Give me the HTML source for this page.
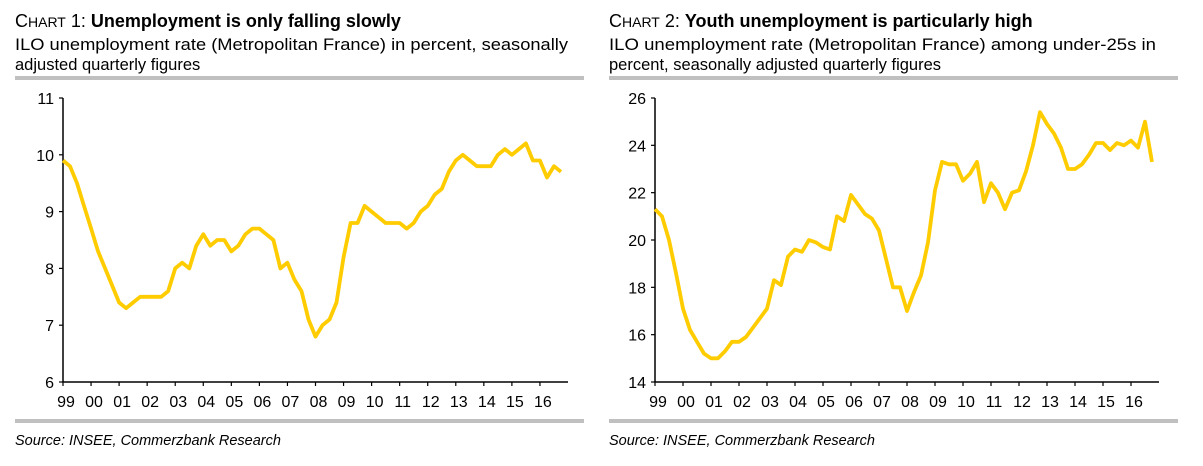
<!DOCTYPE html>
<html><head><meta charset="utf-8">
<style>
html,body{margin:0;padding:0;background:#fff;}
svg{display:block;font-family:"Liberation Sans",Arial,sans-serif;}
</style></head>
<body>
<svg id="s" width="1203" height="466" viewBox="0 0 1203 466">
  <g>
    <text x="15" y="27" font-size="18" fill="#000"><tspan>C</tspan><tspan font-size="14">HART</tspan><tspan> 1: </tspan><tspan font-weight="bold">Unemployment is only falling slowly</tspan></text>
    <text x="15" y="50" font-size="16.5" textLength="553" lengthAdjust="spacingAndGlyphs">ILO unemployment rate (Metropolitan France) in percent, seasonally</text>
    <text x="15" y="70" font-size="16.5">adjusted quarterly figures</text>
    <rect x="15" y="76" width="569" height="4" fill="#c0c0c0"/>
    <rect x="15" y="419" width="569" height="4" fill="#c0c0c0"/>
    <text x="15" y="445" font-size="14.5" font-style="italic">Source: INSEE, Commerzbank Research</text>
  </g>
  <g>
    <text x="609" y="27" font-size="18" fill="#000"><tspan>C</tspan><tspan font-size="14">HART</tspan><tspan> 2: </tspan><tspan font-weight="bold">Youth unemployment is particularly high</tspan></text>
    <text x="609" y="50" font-size="16.5" textLength="547" lengthAdjust="spacingAndGlyphs">ILO unemployment rate (Metropolitan France) among under-25s in</text>
    <text x="609" y="70" font-size="16.5">percent, seasonally adjusted quarterly figures</text>
    <rect x="609" y="76" width="569" height="4" fill="#c0c0c0"/>
    <rect x="609" y="419" width="569" height="4" fill="#c0c0c0"/>
    <text x="609" y="445" font-size="14.5" font-style="italic">Source: INSEE, Commerzbank Research</text>
  </g>
  <g id="c1"></g>
  <g id="c2"></g>
</svg>
<script>
const yearLabels = ["99","00","01","02","03","04","05","06","07","08","09","10","11","12","13","14","15","16"];
const yTicks1 = [6,7,8,9,10,11];
const yTicks2 = [14,16,18,20,22,24,26];
const series1 = [9.9,9.8,9.5,9.1, 8.7,8.3,8.0,7.7, 7.4,7.3,7.4,7.5, 7.5,7.5,7.5,7.6, 8.0,8.1,8.0,8.4, 8.6,8.4,8.5,8.5, 8.3,8.4,8.6,8.7, 8.7,8.6,8.5,8.0, 8.1,7.8,7.6,7.1, 6.8,7.0,7.1,7.4, 8.2,8.8,8.8,9.1, 9.0,8.9,8.8,8.8, 8.8,8.7,8.8,9.0, 9.1,9.3,9.4,9.7, 9.9,10.0,9.9,9.8, 9.8,9.8,10.0,10.1, 10.0,10.1,10.2,9.9, 9.9,9.6,9.8,9.7];
const series2 = [21.3,21.0,20.0,18.6, 17.1,16.2,15.7,15.2, 15.0,15.0,15.3,15.7, 15.7,15.9,16.3,16.7, 17.1,18.3,18.1,19.3, 19.6,19.5,20.0,19.9, 19.7,19.6,21.0,20.8, 21.9,21.5,21.1,20.9, 20.4,19.2,18.0,18.0, 17.0,17.8,18.5,19.9, 22.1,23.3,23.2,23.2, 22.5,22.8,23.3,21.6, 22.4,22.0,21.3,22.0, 22.1,22.9,24.0,25.4, 24.9,24.5,23.9,23.0, 23.0,23.2,23.6,24.1, 24.1,23.8,24.1,24.0, 24.2,23.9,25.0,23.3];

const NS = "http://www.w3.org/2000/svg";
function mk(tag, attrs, parent){
  const e = document.createElementNS(NS, tag);
  for (const k in attrs) e.setAttribute(k, attrs[k]);
  parent.appendChild(e); return e;
}
function draw(gid, x0, x1, y0, y1, ymin, ymax, ticks, data, prefix){
  const g = document.getElementById(gid);
  const yearW = (x1 - x0) / 18;
  const xs = i => x0 + i * yearW / 4;
  const ys = v => y1 - (v - ymin) / (ymax - ymin) * (y1 - y0);
  const ax = mk('path', {d:`M${x0} ${y0}V${y1}H${x1}`, stroke:'#000', 'stroke-width':1.5, fill:'none'}, g);
  
  
  ticks.forEach(t => {
    const y = ys(t);
    const tk = mk('line', {x1:x0-4, x2:x0, y1:y, y2:y, stroke:'#000', 'stroke-width':1.2}, g);
    
    
    const tx = mk('text', {x:x0-9, y:y+6, 'font-size':16, 'text-anchor':'end'}, g);
    tx.textContent = t;
    
    
  });
  yearLabels.forEach((lab, i) => {
    const x = x0 + i * yearW;
    const tk = mk('line', {x1:x, x2:x, y1:y1, y2:y1+4, stroke:'#000', 'stroke-width':1.2}, g);
    
    
    const tx = mk('text', {x:x+3, y:y1+25, 'font-size':16, 'text-anchor':'middle'}, g);
    tx.textContent = lab;
    
    
  });
  const d = data.map((v, i) => (i ? 'L' : 'M') + xs(i).toFixed(1) + ' ' + ys(v).toFixed(1)).join('');
  const ln = mk('path', {d, stroke:'#ffcc00', 'stroke-width':3.8, fill:'none', 'stroke-linejoin':'round'}, g);
  
  
}
draw('c1', 63, 568, 98, 382, 6, 11, yTicks1, series1, 'chart-1');
draw('c2', 655, 1159, 98, 382, 14, 26, yTicks2, series2, 'chart-2');
</script>
</body></html>
